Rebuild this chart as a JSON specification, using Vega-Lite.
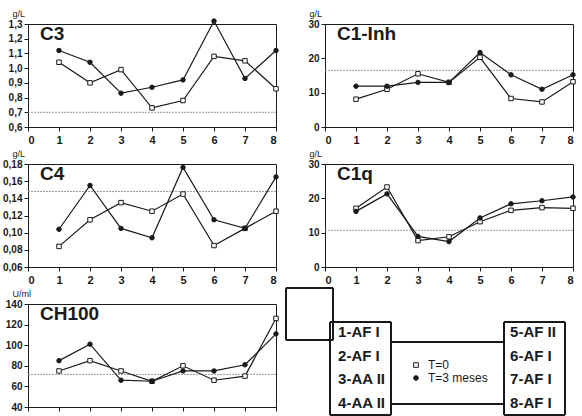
{
  "$schema": "https://vega.github.io/schema/vega-lite/v6.json",
  "background": "white",
  "padding": {"left": 2, "top": 8, "right": 2, "bottom": 0},
  "datasets": {
    "medidas": [
      {"parametro": "C3", "paciente": 1, "serie": "T=0", "valor": 1.04},
      {"parametro": "C3", "paciente": 2, "serie": "T=0", "valor": 0.90},
      {"parametro": "C3", "paciente": 3, "serie": "T=0", "valor": 0.99},
      {"parametro": "C3", "paciente": 4, "serie": "T=0", "valor": 0.73},
      {"parametro": "C3", "paciente": 5, "serie": "T=0", "valor": 0.78},
      {"parametro": "C3", "paciente": 6, "serie": "T=0", "valor": 1.08},
      {"parametro": "C3", "paciente": 7, "serie": "T=0", "valor": 1.05},
      {"parametro": "C3", "paciente": 8, "serie": "T=0", "valor": 0.86},
      {"parametro": "C3", "paciente": 1, "serie": "T=3 meses", "valor": 1.12},
      {"parametro": "C3", "paciente": 2, "serie": "T=3 meses", "valor": 1.04},
      {"parametro": "C3", "paciente": 3, "serie": "T=3 meses", "valor": 0.83},
      {"parametro": "C3", "paciente": 4, "serie": "T=3 meses", "valor": 0.87},
      {"parametro": "C3", "paciente": 5, "serie": "T=3 meses", "valor": 0.92},
      {"parametro": "C3", "paciente": 6, "serie": "T=3 meses", "valor": 1.32},
      {"parametro": "C3", "paciente": 7, "serie": "T=3 meses", "valor": 0.93},
      {"parametro": "C3", "paciente": 8, "serie": "T=3 meses", "valor": 1.12},
      {"parametro": "C1-Inh", "paciente": 1, "serie": "T=0", "valor": 8.1},
      {"parametro": "C1-Inh", "paciente": 2, "serie": "T=0", "valor": 11.0},
      {"parametro": "C1-Inh", "paciente": 3, "serie": "T=0", "valor": 15.5},
      {"parametro": "C1-Inh", "paciente": 4, "serie": "T=0", "valor": 13.0},
      {"parametro": "C1-Inh", "paciente": 5, "serie": "T=0", "valor": 20.3},
      {"parametro": "C1-Inh", "paciente": 6, "serie": "T=0", "valor": 8.3},
      {"parametro": "C1-Inh", "paciente": 7, "serie": "T=0", "valor": 7.3},
      {"parametro": "C1-Inh", "paciente": 8, "serie": "T=0", "valor": 13.2},
      {"parametro": "C1-Inh", "paciente": 1, "serie": "T=3 meses", "valor": 11.9},
      {"parametro": "C1-Inh", "paciente": 2, "serie": "T=3 meses", "valor": 11.9},
      {"parametro": "C1-Inh", "paciente": 3, "serie": "T=3 meses", "valor": 13.0},
      {"parametro": "C1-Inh", "paciente": 4, "serie": "T=3 meses", "valor": 13.0},
      {"parametro": "C1-Inh", "paciente": 5, "serie": "T=3 meses", "valor": 21.7},
      {"parametro": "C1-Inh", "paciente": 6, "serie": "T=3 meses", "valor": 15.2},
      {"parametro": "C1-Inh", "paciente": 7, "serie": "T=3 meses", "valor": 11.0},
      {"parametro": "C1-Inh", "paciente": 8, "serie": "T=3 meses", "valor": 15.2},
      {"parametro": "C4", "paciente": 1, "serie": "T=0", "valor": 0.084},
      {"parametro": "C4", "paciente": 2, "serie": "T=0", "valor": 0.115},
      {"parametro": "C4", "paciente": 3, "serie": "T=0", "valor": 0.135},
      {"parametro": "C4", "paciente": 4, "serie": "T=0", "valor": 0.125},
      {"parametro": "C4", "paciente": 5, "serie": "T=0", "valor": 0.145},
      {"parametro": "C4", "paciente": 6, "serie": "T=0", "valor": 0.085},
      {"parametro": "C4", "paciente": 7, "serie": "T=0", "valor": 0.105},
      {"parametro": "C4", "paciente": 8, "serie": "T=0", "valor": 0.125},
      {"parametro": "C4", "paciente": 1, "serie": "T=3 meses", "valor": 0.104},
      {"parametro": "C4", "paciente": 2, "serie": "T=3 meses", "valor": 0.155},
      {"parametro": "C4", "paciente": 3, "serie": "T=3 meses", "valor": 0.105},
      {"parametro": "C4", "paciente": 4, "serie": "T=3 meses", "valor": 0.094},
      {"parametro": "C4", "paciente": 5, "serie": "T=3 meses", "valor": 0.176},
      {"parametro": "C4", "paciente": 6, "serie": "T=3 meses", "valor": 0.115},
      {"parametro": "C4", "paciente": 7, "serie": "T=3 meses", "valor": 0.105},
      {"parametro": "C4", "paciente": 8, "serie": "T=3 meses", "valor": 0.165},
      {"parametro": "C1q", "paciente": 1, "serie": "T=0", "valor": 17.1},
      {"parametro": "C1q", "paciente": 2, "serie": "T=0", "valor": 23.3},
      {"parametro": "C1q", "paciente": 3, "serie": "T=0", "valor": 7.7},
      {"parametro": "C1q", "paciente": 4, "serie": "T=0", "valor": 8.8},
      {"parametro": "C1q", "paciente": 5, "serie": "T=0", "valor": 13.2},
      {"parametro": "C1q", "paciente": 6, "serie": "T=0", "valor": 16.5},
      {"parametro": "C1q", "paciente": 7, "serie": "T=0", "valor": 17.3},
      {"parametro": "C1q", "paciente": 8, "serie": "T=0", "valor": 17.1},
      {"parametro": "C1q", "paciente": 1, "serie": "T=3 meses", "valor": 16.2},
      {"parametro": "C1q", "paciente": 2, "serie": "T=3 meses", "valor": 21.3},
      {"parametro": "C1q", "paciente": 3, "serie": "T=3 meses", "valor": 8.9},
      {"parametro": "C1q", "paciente": 4, "serie": "T=3 meses", "valor": 7.4},
      {"parametro": "C1q", "paciente": 5, "serie": "T=3 meses", "valor": 14.3},
      {"parametro": "C1q", "paciente": 6, "serie": "T=3 meses", "valor": 18.4},
      {"parametro": "C1q", "paciente": 7, "serie": "T=3 meses", "valor": 19.3},
      {"parametro": "C1q", "paciente": 8, "serie": "T=3 meses", "valor": 20.4},
      {"parametro": "CH100", "paciente": 1, "serie": "T=0", "valor": 75},
      {"parametro": "CH100", "paciente": 2, "serie": "T=0", "valor": 85},
      {"parametro": "CH100", "paciente": 3, "serie": "T=0", "valor": 75},
      {"parametro": "CH100", "paciente": 4, "serie": "T=0", "valor": 65},
      {"parametro": "CH100", "paciente": 5, "serie": "T=0", "valor": 80},
      {"parametro": "CH100", "paciente": 6, "serie": "T=0", "valor": 66},
      {"parametro": "CH100", "paciente": 7, "serie": "T=0", "valor": 70},
      {"parametro": "CH100", "paciente": 8, "serie": "T=0", "valor": 126},
      {"parametro": "CH100", "paciente": 1, "serie": "T=3 meses", "valor": 85},
      {"parametro": "CH100", "paciente": 2, "serie": "T=3 meses", "valor": 101},
      {"parametro": "CH100", "paciente": 3, "serie": "T=3 meses", "valor": 66},
      {"parametro": "CH100", "paciente": 4, "serie": "T=3 meses", "valor": 65},
      {"parametro": "CH100", "paciente": 5, "serie": "T=3 meses", "valor": 75},
      {"parametro": "CH100", "paciente": 6, "serie": "T=3 meses", "valor": 75},
      {"parametro": "CH100", "paciente": 7, "serie": "T=3 meses", "valor": 81},
      {"parametro": "CH100", "paciente": 8, "serie": "T=3 meses", "valor": 111}
    ],
    "referencia": [
      {"parametro": "C3", "valor": 0.7},
      {"parametro": "C1-Inh", "valor": 16.5},
      {"parametro": "C4", "valor": 0.148},
      {"parametro": "C1q", "valor": 10.7},
      {"parametro": "CH100", "valor": 71.6}
    ],
    "grupos": [
      {"grupo": "1-AF I", "columna": 1, "fila": 1},
      {"grupo": "2-AF I", "columna": 1, "fila": 2},
      {"grupo": "3-AA II", "columna": 1, "fila": 3},
      {"grupo": "4-AA II", "columna": 1, "fila": 4},
      {"grupo": "5-AF II", "columna": 2, "fila": 1},
      {"grupo": "6-AF I", "columna": 2, "fila": 2},
      {"grupo": "7-AF I", "columna": 2, "fila": 3},
      {"grupo": "8-AF I", "columna": 2, "fila": 4}
    ]
  },
  "columns": 2,
  "bounds": "flush",
  "spacing": {"row": 37, "column": 49},
  "concat": [
    {
      "title": {"text": "C3"},
      "width": 248, "height": 103,
      "data": {"name": "medidas"},
      "transform": [{"filter": "datum.parametro == 'C3'"}],
      "layer": [
        {
          "data": {"name": "referencia"},
          "transform": [{"filter": "datum.parametro == 'C3'"}],
          "mark": {"type": "rule", "color": "#9a9a9a", "strokeDash": [2, 1], "strokeWidth": 1},
          "encoding": {"y": {"field": "valor", "type": "quantitative", "axis": {"title": "g/L", "labelOverlap": false, "labelSeparation": -60, "values": [0.6, 0.7, 0.8, 0.9, 1.0, 1.1, 1.2, 1.3], "labelExpr": "replace(format(datum.value, '.1f'), '.', ',')"}}}
        },
        {
          "mark": {"type": "line", "color": "#1a1a1a", "strokeWidth": 1.2},
          "encoding": {
            "x": {"field": "paciente", "type": "quantitative", "scale": {"domain": [0, 8]}, "axis": {"values": [0, 1, 2, 3, 4, 5, 6, 7, 8], "labelOverlap": false, "labelSeparation": -60}},
            "y": {"field": "valor", "type": "quantitative", "scale": {"domain": [0.6, 1.3], "nice": false, "zero": false},
                  "axis": {"title": "g/L", "labelOverlap": false, "labelSeparation": -60, "values": [0.6, 0.7, 0.8, 0.9, 1.0, 1.1, 1.2, 1.3], "labelExpr": "replace(format(datum.value, '.1f'), '.', ',')"}},
            "detail": {"field": "serie", "type": "nominal"}
          }
        },
        {
          "mark": {"type": "point", "strokeWidth": 1, "opacity": 1, "size": 20},
          "encoding": {
            "x": {"field": "paciente", "type": "quantitative", "axis": {"values": [0, 1, 2, 3, 4, 5, 6, 7, 8], "labelOverlap": false, "labelSeparation": -60}},
            "y": {"field": "valor", "type": "quantitative", "axis": {"title": "g/L", "labelOverlap": false, "labelSeparation": -60, "values": [0.6, 0.7, 0.8, 0.9, 1.0, 1.1, 1.2, 1.3], "labelExpr": "replace(format(datum.value, '.1f'), '.', ',')"}},
            "shape": {"field": "serie", "type": "nominal", "scale": {"domain": ["T=0", "T=3 meses"], "range": ["square", "circle"]}, "legend": {"orient": "none", "legendX": 382, "legendY": 335, "title": null}},
            "fill": {"field": "serie", "type": "nominal", "scale": {"domain": ["T=0", "T=3 meses"], "range": ["white", "#1a1a1a"]}, "legend": {"orient": "none", "legendX": 382, "legendY": 335, "title": null}},
            "stroke": {"field": "serie", "type": "nominal", "scale": {"domain": ["T=0", "T=3 meses"], "range": ["#1a1a1a", "#1a1a1a"]}, "legend": {"orient": "none", "legendX": 382, "legendY": 335, "title": null}}
          }
        }
      ]
    },
    {
      "title": {"text": "C1-Inh"},
      "width": 248, "height": 103,
      "data": {"name": "medidas"},
      "transform": [{"filter": "datum.parametro == 'C1-Inh'"}],
      "layer": [
        {
          "data": {"name": "referencia"},
          "transform": [{"filter": "datum.parametro == 'C1-Inh'"}],
          "mark": {"type": "rule", "color": "#9a9a9a", "strokeDash": [2, 1], "strokeWidth": 1},
          "encoding": {"y": {"field": "valor", "type": "quantitative", "axis": {"title": "g/L", "labelOverlap": false, "labelSeparation": -60, "values": [0, 10, 20, 30]}}}
        },
        {
          "mark": {"type": "line", "color": "#1a1a1a", "strokeWidth": 1.2},
          "encoding": {
            "x": {"field": "paciente", "type": "quantitative", "scale": {"domain": [0, 8]}, "axis": {"values": [0, 1, 2, 3, 4, 5, 6, 7, 8], "labelOverlap": false, "labelSeparation": -60}},
            "y": {"field": "valor", "type": "quantitative", "scale": {"domain": [0, 30], "nice": false},
                  "axis": {"title": "g/L", "labelOverlap": false, "labelSeparation": -60, "values": [0, 10, 20, 30]}},
            "detail": {"field": "serie", "type": "nominal"}
          }
        },
        {
          "mark": {"type": "point", "strokeWidth": 1, "opacity": 1, "size": 20},
          "encoding": {
            "x": {"field": "paciente", "type": "quantitative", "axis": {"values": [0, 1, 2, 3, 4, 5, 6, 7, 8], "labelOverlap": false, "labelSeparation": -60}},
            "y": {"field": "valor", "type": "quantitative", "axis": {"title": "g/L", "labelOverlap": false, "labelSeparation": -60, "values": [0, 10, 20, 30]}},
            "shape": {"field": "serie", "type": "nominal", "legend": {"orient": "none", "legendX": 382, "legendY": 335, "title": null}},
            "fill": {"field": "serie", "type": "nominal", "legend": {"orient": "none", "legendX": 382, "legendY": 335, "title": null}},
            "stroke": {"field": "serie", "type": "nominal", "legend": {"orient": "none", "legendX": 382, "legendY": 335, "title": null}}
          }
        }
      ]
    },
    {
      "title": {"text": "C4"},
      "width": 248, "height": 103,
      "data": {"name": "medidas"},
      "transform": [{"filter": "datum.parametro == 'C4'"}],
      "layer": [
        {
          "data": {"name": "referencia"},
          "transform": [{"filter": "datum.parametro == 'C4'"}],
          "mark": {"type": "rule", "color": "#9a9a9a", "strokeDash": [2, 1], "strokeWidth": 1},
          "encoding": {"y": {"field": "valor", "type": "quantitative", "axis": {"title": "g/L", "labelOverlap": false, "labelSeparation": -60, "values": [0.06, 0.08, 0.10, 0.12, 0.14, 0.16, 0.18], "labelExpr": "replace(format(datum.value, '.2f'), '.', ',')"}}}
        },
        {
          "mark": {"type": "line", "color": "#1a1a1a", "strokeWidth": 1.2},
          "encoding": {
            "x": {"field": "paciente", "type": "quantitative", "scale": {"domain": [0, 8]}, "axis": {"values": [0, 1, 2, 3, 4, 5, 6, 7, 8], "labelOverlap": false, "labelSeparation": -60}},
            "y": {"field": "valor", "type": "quantitative", "scale": {"domain": [0.06, 0.18], "nice": false, "zero": false},
                  "axis": {"title": "g/L", "labelOverlap": false, "labelSeparation": -60, "values": [0.06, 0.08, 0.10, 0.12, 0.14, 0.16, 0.18], "labelExpr": "replace(format(datum.value, '.2f'), '.', ',')"}},
            "detail": {"field": "serie", "type": "nominal"}
          }
        },
        {
          "mark": {"type": "point", "strokeWidth": 1, "opacity": 1, "size": 20},
          "encoding": {
            "x": {"field": "paciente", "type": "quantitative", "axis": {"values": [0, 1, 2, 3, 4, 5, 6, 7, 8], "labelOverlap": false, "labelSeparation": -60}},
            "y": {"field": "valor", "type": "quantitative", "axis": {"title": "g/L", "labelOverlap": false, "labelSeparation": -60, "values": [0.06, 0.08, 0.10, 0.12, 0.14, 0.16, 0.18], "labelExpr": "replace(format(datum.value, '.2f'), '.', ',')"}},
            "shape": {"field": "serie", "type": "nominal", "legend": {"orient": "none", "legendX": 382, "legendY": 335, "title": null}},
            "fill": {"field": "serie", "type": "nominal", "legend": {"orient": "none", "legendX": 382, "legendY": 335, "title": null}},
            "stroke": {"field": "serie", "type": "nominal", "legend": {"orient": "none", "legendX": 382, "legendY": 335, "title": null}}
          }
        }
      ]
    },
    {
      "title": {"text": "C1q"},
      "width": 248, "height": 103,
      "data": {"name": "medidas"},
      "transform": [{"filter": "datum.parametro == 'C1q'"}],
      "layer": [
        {
          "data": {"name": "referencia"},
          "transform": [{"filter": "datum.parametro == 'C1q'"}],
          "mark": {"type": "rule", "color": "#9a9a9a", "strokeDash": [2, 1], "strokeWidth": 1},
          "encoding": {"y": {"field": "valor", "type": "quantitative", "axis": {"title": "g/L", "labelOverlap": false, "labelSeparation": -60, "values": [0, 10, 20, 30]}}}
        },
        {
          "mark": {"type": "line", "color": "#1a1a1a", "strokeWidth": 1.2},
          "encoding": {
            "x": {"field": "paciente", "type": "quantitative", "scale": {"domain": [0, 8]}, "axis": {"values": [0, 1, 2, 3, 4, 5, 6, 7, 8], "labelOverlap": false, "labelSeparation": -60}},
            "y": {"field": "valor", "type": "quantitative", "scale": {"domain": [0, 30], "nice": false},
                  "axis": {"title": "g/L", "labelOverlap": false, "labelSeparation": -60, "values": [0, 10, 20, 30]}},
            "detail": {"field": "serie", "type": "nominal"}
          }
        },
        {
          "mark": {"type": "point", "strokeWidth": 1, "opacity": 1, "size": 20},
          "encoding": {
            "x": {"field": "paciente", "type": "quantitative", "axis": {"values": [0, 1, 2, 3, 4, 5, 6, 7, 8], "labelOverlap": false, "labelSeparation": -60}},
            "y": {"field": "valor", "type": "quantitative", "axis": {"title": "g/L", "labelOverlap": false, "labelSeparation": -60, "values": [0, 10, 20, 30]}},
            "shape": {"field": "serie", "type": "nominal", "legend": {"orient": "none", "legendX": 382, "legendY": 335, "title": null}},
            "fill": {"field": "serie", "type": "nominal", "legend": {"orient": "none", "legendX": 382, "legendY": 335, "title": null}},
            "stroke": {"field": "serie", "type": "nominal", "legend": {"orient": "none", "legendX": 382, "legendY": 335, "title": null}}
          }
        }
      ]
    },
    {
      "title": {"text": "CH100"},
      "width": 248, "height": 103,
      "data": {"name": "medidas"},
      "transform": [{"filter": "datum.parametro == 'CH100'"}],
      "layer": [
        {
          "data": {"name": "referencia"},
          "transform": [{"filter": "datum.parametro == 'CH100'"}],
          "mark": {"type": "rule", "color": "#9a9a9a", "strokeDash": [2, 1], "strokeWidth": 1},
          "encoding": {"y": {"field": "valor", "type": "quantitative", "axis": {"title": "U/ml", "labelOverlap": false, "labelSeparation": -60, "values": [40, 60, 80, 100, 120, 140]}}}
        },
        {
          "mark": {"type": "line", "color": "#1a1a1a", "strokeWidth": 1.2},
          "encoding": {
            "x": {"field": "paciente", "type": "quantitative", "scale": {"domain": [0, 8]}, "axis": {"values": [0, 1, 2, 3, 4, 5, 6, 7, 8], "labelOverlap": false, "labelSeparation": -60}},
            "y": {"field": "valor", "type": "quantitative", "scale": {"domain": [40, 140], "nice": false, "zero": false},
                  "axis": {"title": "U/ml", "labelOverlap": false, "labelSeparation": -60, "values": [40, 60, 80, 100, 120, 140]}},
            "detail": {"field": "serie", "type": "nominal"}
          }
        },
        {
          "mark": {"type": "point", "strokeWidth": 1, "opacity": 1, "size": 20},
          "encoding": {
            "x": {"field": "paciente", "type": "quantitative", "axis": {"values": [0, 1, 2, 3, 4, 5, 6, 7, 8], "labelOverlap": false, "labelSeparation": -60}},
            "y": {"field": "valor", "type": "quantitative", "axis": {"title": "U/ml", "labelOverlap": false, "labelSeparation": -60, "values": [40, 60, 80, 100, 120, 140]}},
            "shape": {"field": "serie", "type": "nominal", "legend": {"orient": "none", "legendX": 382, "legendY": 335, "title": null}},
            "fill": {"field": "serie", "type": "nominal", "legend": {"orient": "none", "legendX": 382, "legendY": 335, "title": null}},
            "stroke": {"field": "serie", "type": "nominal", "legend": {"orient": "none", "legendX": 382, "legendY": 335, "title": null}}
          }
        }
      ]
    },
    {
      "width": 248, "height": 103,
      "view": {"stroke": null},
      "data": {"name": "grupos"},
      "layer": [
        {
          "mark": {"type": "rect", "filled": false, "stroke": "#1a1a1a", "strokeWidth": 1},
          "encoding": {
            "x": {"datum": 0.697, "type": "quantitative", "axis": null}, "x2": {"datum": 0.971},
            "y": {"datum": -0.856, "type": "quantitative", "axis": null}, "y2": {"datum": 1.338}
          }
        },
        {
          "mark": {"type": "rect", "filled": false, "stroke": "#1a1a1a", "strokeWidth": 1},
          "encoding": {
            "x": {"datum": 0.953, "type": "quantitative", "axis": null}, "x2": {"datum": 1.308},
            "y": {"datum": 0.578, "type": "quantitative", "axis": null}, "y2": {"datum": 4.503}
          }
        },
        {
          "mark": {"type": "rect", "filled": false, "stroke": "#1a1a1a", "strokeWidth": 1},
          "encoding": {
            "x": {"datum": 1.965, "type": "quantitative", "axis": null}, "x2": {"datum": 2.319},
            "y": {"datum": 0.578, "type": "quantitative", "axis": null}, "y2": {"datum": 4.503}
          }
        },
        {
          "mark": {"type": "rule", "color": "#1a1a1a", "strokeWidth": 1},
          "encoding": {
            "x": {"datum": 1.308, "type": "quantitative", "axis": null}, "x2": {"datum": 1.965},
            "y": {"datum": 1.422, "type": "quantitative", "axis": null}
          }
        },
        {
          "mark": {"type": "rule", "color": "#1a1a1a", "strokeWidth": 1},
          "encoding": {
            "x": {"datum": 1.308, "type": "quantitative", "axis": null}, "x2": {"datum": 1.965},
            "y": {"datum": 4.038, "type": "quantitative", "axis": null}
          }
        },
        {
          "mark": {"type": "text", "align": "left", "baseline": "middle", "fontSize": 15, "fontWeight": "bold", "font": "Liberation Sans", "color": "#1a1a1a"},
          "encoding": {
            "x": {"field": "columna", "type": "quantitative", "scale": {"domain": [0.924, 2.366], "nice": false, "zero": false}, "axis": null},
            "y": {"field": "fila", "type": "quantitative", "scale": {"domain": [-0.181, 4.165], "nice": false, "zero": false, "reverse": true}, "axis": null},
            "text": {"field": "grupo", "type": "nominal"}
          }
        }
      ]
    }
  ],
  "config": {
    "font": "Liberation Sans",
    "view": {"stroke": "#1a1a1a", "strokeWidth": 1},
    "title": {"anchor": "start", "frame": "group", "fontSize": 19, "fontWeight": "bold", "font": "Liberation Sans", "color": "#1a1a1a", "offset": -35, "dx": 12, "baseline": "top"},
    "axis": {"grid": false, "labelOverlap": false, "labelSeparation": -60, "domainColor": "#1a1a1a", "tickColor": "#1a1a1a", "tickSize": 4, "labelColor": "#1a1a1a", "labelFont": "Liberation Sans", "labelFontWeight": "bold", "titleFont": "Liberation Sans", "titleFontWeight": "normal", "titleFontSize": 9, "titleColor": "#1a1a1a"},
    "axisX": {"title": null, "labelFontSize": 11, "labelPadding": 3},
    "axisY": {"labelFontSize": 10, "labelPadding": 2, "titleAngle": 0, "titleAlign": "left", "titleBaseline": "bottom", "titleX": -16, "titleY": -6},
    "legend": {"labelFont": "Liberation Sans", "labelFontSize": 12, "labelColor": "#1a1a1a", "rowPadding": 1, "labelOffset": 6, "symbolStrokeWidth": 1, "symbolSize": 22}
  }
}
